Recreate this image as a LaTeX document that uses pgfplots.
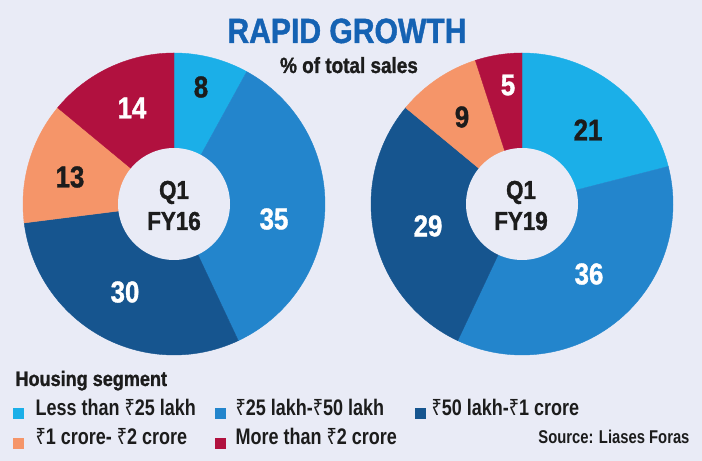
\documentclass[border=0pt]{standalone}
\usepackage{pgfplots}
\pgfplotsset{compat=1.18}
\usepackage{fontspec}
\setmainfont{Liberation Sans}[FakeStretch=0.8]
\newfontfamily\hfont{Liberation Sans}[FakeStretch=0.86, FakeBold=1.2]
\newfontfamily\rupfont{Noto Sans}[FakeStretch=0.8]
\newcommand\rs{{\rupfont ₹}}
\newcommand\fs[1]{\fontsize{#1bp}{#1bp}\selectfont}

\definecolor{bg}{HTML}{E9EBF6}
\definecolor{ttl}{HTML}{1562B3}
\definecolor{ink}{HTML}{1C1C1C}
\definecolor{c1}{HTML}{1BAFE8}
\definecolor{c2}{HTML}{2385CC}
\definecolor{c3}{HTML}{16558F}
\definecolor{c4}{HTML}{F59569}
\definecolor{c5}{HTML}{B1113F}

% donut slice: centre x, centre y, from %, to %, colour
\newcommand\slice[5]{%
  \addplot[draw=#5, line width=0.4pt, fill=#5, samples=80, variable=\t,
    domain={90-3.6*#4}:{90-3.6*#3}]
    ({#1+151*cos(\t)}, {#2+151*sin(\t)}) -- (#1,#2) -- cycle;
}
\newcommand\hole[2]{%
  \addplot[fill=bg, draw=none, samples=120, variable=\t, domain=0:360]
    ({#1+56*cos(\t)}, {#2+56*sin(\t)}) -- cycle;
}

\begin{document}
\begin{tikzpicture}
\fill[bg] (0,0) rectangle (702bp,461bp);
\begin{axis}[
    at={(0,0)}, anchor=south west,
    width=702bp, height=461bp, scale only axis,
    xmin=0, xmax=702, ymin=0, ymax=461,
    hide axis, clip=false,
    every node/.append style={inner sep=0pt, font=\bfseries},
]
% Q1 FY16: 8, 35, 30, 13, 14
\slice{174}{257}{0}{8}{c1}
\slice{174}{257}{8}{43}{c2}
\slice{174}{257}{43}{73}{c3}
\slice{174}{257}{73}{86}{c4}
\slice{174}{257}{86}{100}{c5}
\hole{174}{257}
% Q1 FY19: 21, 36, 29, 9, 5
\slice{522}{257}{0}{21}{c1}
\slice{522}{257}{21}{57}{c2}
\slice{522}{257}{57}{86}{c3}
\slice{522}{257}{86}{95}{c4}
\slice{522}{257}{95}{100}{c5}
\hole{522}{257}

% slice values
\begin{scope}[every node/.append style={font=\hfont\bfseries\fs{30}}]
\node[ink]   at (201,374) {8};
\node[white] at (274,242) {35};
\node[white] at (125,169) {30};
\node[ink]   at (70,284)  {13};
\node[white] at (132,353) {14};
\node[ink]   at (588,331) {21};
\node[white] at (589,187) {36};
\node[white] at (428,235) {29};
\node[ink]   at (462,344) {9};
\node[white] at (508,376) {5};
\end{scope}

% centre labels
\node[ink, font=\hfont\bfseries\fs{26}, anchor=base] at (174,262) {Q1};
\node[ink, font=\hfont\bfseries\fs{26}, anchor=base] at (174,231) {FY16};
\node[ink, font=\hfont\bfseries\fs{26}, anchor=base] at (521,262) {Q1};
\node[ink, font=\hfont\bfseries\fs{26}, anchor=base] at (521,231) {FY19};

% titles
\node[ttl, font=\hfont\bfseries\fs{35}, anchor=base] at (347,418) {RAPID GROWTH};
\node[ink, font=\hfont\bfseries\fs{22}, anchor=base] at (349,388) {\% of total sales};

% legend
\node[ink, font=\hfont\bfseries\fs{21}, anchor=base west] at (12,75) {Housing segment};
\begin{scope}[every node/.append style={font=\bfseries\fs{22.5}, ink, anchor=base west}]
\node[fill=c1, minimum size=10.5bp] at (13,47.5) {};
\node at (32,45) {Less than \rs25 lakh};
\node[fill=c2, minimum size=10.5bp] at (215,47.5) {};
\node at (232,45) {\rs25 lakh-\rs50 lakh};
\node[fill=c3, minimum size=10.5bp] at (415,47.5) {};
\node at (428,45) {\rs50 lakh-\rs1 crore};
\node[fill=c4, minimum size=10.5bp] at (13,17.5) {};
\node at (32,17) {\rs1 crore- \rs2 crore};
\node[fill=c5, minimum size=10.5bp] at (215,17.5) {};
\node at (232,17) {More than \rs2 crore};
\end{scope}
\node[ink, font=\bfseries\fs{18.5}, anchor=base east] at (693,18) {Source: Liases Foras};
\end{axis}
\end{tikzpicture}
\end{document}
